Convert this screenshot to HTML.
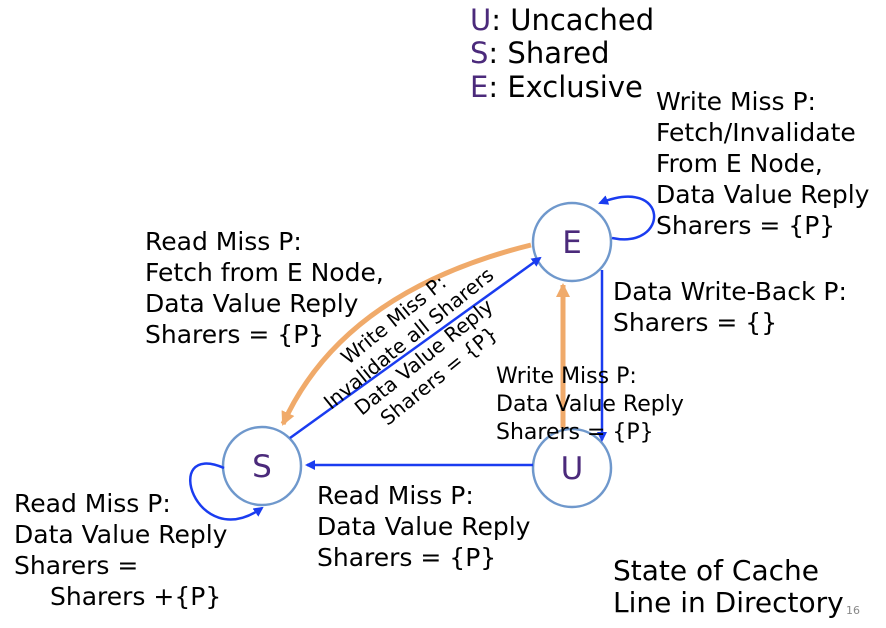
<!DOCTYPE html>
<html><head><style>
body{margin:0;background:#fff;}
svg{display:block;font-family:"DejaVu Sans","Liberation Sans",sans-serif;}
</style></head><body>
<svg width="886" height="628" viewBox="0 0 886 628" xmlns="http://www.w3.org/2000/svg">
<defs>
<marker id="ab" markerWidth="10" markerHeight="10" refX="8" refY="5" orient="auto" markerUnits="userSpaceOnUse"><path d="M0,0 L10,5 L0,10 z" fill="#1a3cf0"/></marker>
<marker id="ao" markerWidth="16" markerHeight="16" refX="12" refY="8" orient="auto" markerUnits="userSpaceOnUse"><path d="M0,1 L14,8 L0,15 z" fill="#f0aa6a"/></marker>
</defs>
<g font-size="29" fill="#000">
<text x="470" y="30"><tspan fill="#4b2a7b">U</tspan>: Uncached</text>
<text x="470" y="63"><tspan fill="#4b2a7b">S</tspan>: Shared</text>
<text x="470" y="97"><tspan fill="#4b2a7b">E</tspan>: Exclusive</text>
</g>
<g fill="none" stroke-width="2.5">
<circle cx="572" cy="242" r="39" stroke="#6f98cc"/>
<circle cx="262" cy="466" r="39" stroke="#6f98cc"/>
<circle cx="572" cy="468" r="39" stroke="#6f98cc"/>
<path d="M612,238 C670,250 670,175 600,203" stroke="#1a3cf0" marker-end="url(#ab)"/>
<path d="M224,468 C160,440 195,555 262,508" stroke="#1a3cf0" marker-end="url(#ab)"/>
<line x1="290" y1="438" x2="540" y2="258" stroke="#1a3cf0" marker-end="url(#ab)"/>
<line x1="602" y1="270" x2="602" y2="440" stroke="#1a3cf0" marker-end="url(#ab)"/>
<line x1="533" y1="465" x2="307" y2="465" stroke="#1a3cf0" marker-end="url(#ab)"/>
<path d="M531,245 C430,270 330,320 283,424" stroke="#f0aa6a" stroke-width="5" marker-end="url(#ao)"/>
<line x1="563" y1="428" x2="563" y2="285" stroke="#f0aa6a" stroke-width="5" marker-end="url(#ao)"/>
</g>
<g font-size="31" fill="#4b2a7b" text-anchor="middle">
<text x="572" y="253">E</text>
<text x="262" y="477">S</text>
<text x="572" y="479">U</text>
</g>
<g font-size="25" fill="#000">
<text x="656" y="110">Write Miss P:</text>
<text x="656" y="141">Fetch/Invalidate</text>
<text x="656" y="172">From E Node,</text>
<text x="656" y="203">Data Value Reply</text>
<text x="656" y="234">Sharers = {P}</text>
<text x="145" y="250">Read Miss P:</text>
<text x="145" y="281">Fetch from E Node,</text>
<text x="145" y="312">Data Value Reply</text>
<text x="145" y="343">Sharers = {P}</text>
<text x="613" y="300">Data Write-Back P:</text>
<text x="613" y="331">Sharers = {}</text>
<text x="14" y="512">Read Miss P:</text>
<text x="14" y="543">Data Value Reply</text>
<text x="14" y="574">Sharers =</text>
<text x="50" y="605">Sharers +{P}</text>
<text x="317" y="504">Read Miss P:</text>
<text x="317" y="535">Data Value Reply</text>
<text x="317" y="566">Sharers = {P}</text>
<text x="613" y="580" font-size="28">State of Cache</text>
<text x="613" y="612" font-size="28">Line in Directory</text>
</g>
<g font-size="22" fill="#000">
<text x="496" y="383">Write Miss P:</text>
<text x="496" y="411">Data Value Reply</text>
<text x="496" y="439">Sharers = {P}</text>
</g>
<g font-size="20" fill="#000" text-anchor="middle" transform="rotate(-39 418 350)">
<text x="418" y="318">Write Miss P:</text>
<text x="418" y="342">Invalidate all Sharers</text>
<text x="418" y="366">Data Value Reply</text>
<text x="418" y="390">Sharers = {P}</text>
</g>
<text x="846" y="614" font-size="11" fill="#888">16</text>
</svg>
</body></html>
